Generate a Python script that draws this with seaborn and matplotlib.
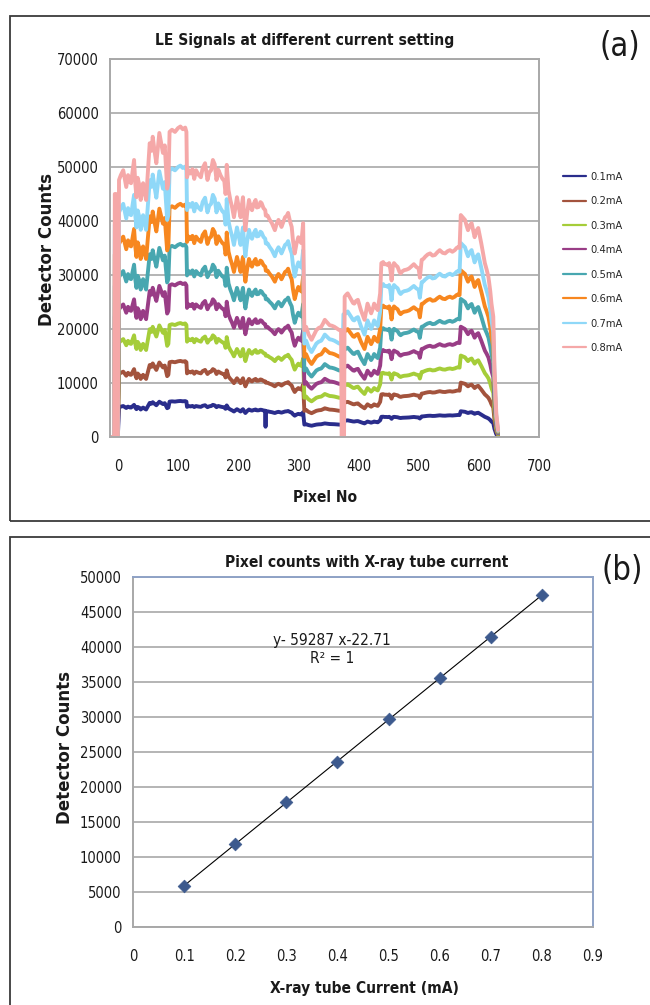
import numpy as np
import pandas as pd
import matplotlib
matplotlib.use("Agg")
import matplotlib.pyplot as plt
import matplotlib.font_manager as fm
import seaborn as sns
from matplotlib.lines import Line2D
from matplotlib.patches import Rectangle

sns.set_theme(style="white")
plt.rcParams["font.family"] = ["Liberation Sans", "DejaVu Sans"]

# ---------------- data: panel (a) ----------------
currents = ["0.1mA", "0.2mA", "0.3mA", "0.4mA", "0.5mA", "0.6mA", "0.7mA", "0.8mA"]
series_colors = ["#2a2d8c", "#a3533d", "#a5cd39", "#993d86",
                 "#48a7b0", "#f7871f", "#8fd8f8", "#f5a8a8"]
# signal level of each run relative to the 0.8 mA run
level_ratio = [0.116, 0.245, 0.367, 0.497, 0.622, 0.751, 0.874, 1.0]

# detector profile recorded at 0.8 mA, module by module
pixel_no = [
    -12, -6, -5, -3, -2, 0, 2, 5, 9, 12, 14, 17, 20, 22, 25, 27, 29, 31, 33, 36,
    38, 40, 42, 45, 47, 50, 53, 56, 58, 61, 64, 67, 69, 72, 75, 78, 80, 82, 84, 86,
    90, 95, 100, 104, 108, 112, 114,
    115, 118, 121, 124, 127, 130, 134, 138, 141, 145, 149, 152, 155, 158, 161, 164,
    167, 171, 174, 177, 179, 180,
    181, 184, 187, 190, 193, 196, 198, 201, 204, 206, 208, 210, 212, 215, 218, 221,
    223, 226, 229, 231, 234, 237, 239, 242, 245,
    246, 249, 252, 256, 259, 261, 264, 267, 270, 272, 275, 278, 281, 283, 286, 289,
    291, 294, 297, 300, 303, 305, 307, 308,
    310, 313, 317, 322, 326, 330, 334, 338, 341, 344, 348, 352, 356, 360, 364, 368,
    371, 374,
    375, 377, 380, 382, 385, 388, 391, 393, 396, 399, 402, 404, 407, 410, 413, 415,
    418, 421, 424, 426, 429, 432, 434, 436,
    438, 441, 443, 446, 449, 451, 453, 455, 457, 459, 462, 465, 468, 470, 473, 476,
    480, 484, 488, 492, 496, 500,
    502, 505, 508, 511, 515, 519, 523, 527, 531, 535, 540, 544, 548, 552, 556, 560,
    563, 566, 568,
    570, 574, 577, 580, 582, 585, 588, 591, 593, 596, 599, 602, 604, 607, 610, 613,
    616, 619, 621, 624, 626, 629, 632,
]
counts_08mA = [
    0, 0, 45000, 45000, 0, 0, 47600, 48500, 49400, 47500, 46300, 48500, 47200, 47000,
    49500, 51300, 47000, 44400, 48000, 46500, 43900, 45500, 47000, 45000, 43900, 49000,
    54400, 53000, 55600, 53000, 50700, 54000, 56300, 54500, 52600, 54000, 50000, 46000,
    47000, 56500, 56900, 56500, 57200, 57500, 57000, 57300, 56500,
    48100, 49400, 48800, 49600, 47800, 49400, 48600, 48100, 49800, 50700, 47600, 49000,
    49400, 51300, 50500, 47600, 49500, 48400, 47800, 47400, 45000, 46000,
    50400, 45700, 43900, 42500, 40700, 43000, 44400, 42500, 40700, 42800, 44400, 41000,
    38300, 41500, 43900, 42500, 42000, 43200, 43900, 42500, 42600, 43500, 43300, 42400,
    42000,
    41000, 41000, 40300, 39600, 38800, 38300, 39500, 40200, 39500, 38900, 39800, 40700,
    41000, 41500, 40000, 38900, 36500, 34000, 35800, 37000, 36200, 35900, 38500, 39600,
    19800, 20400, 19000, 18000, 18900, 19800, 20200, 20400, 21000, 21700, 21200, 20700,
    20600, 20400, 20100, 19800, 19800, 19800,
    26000, 26000, 26400, 26600, 26000, 25400, 24800, 24700, 25200, 25400, 24300, 23500,
    22600, 21700, 23500, 24700, 23800, 22900, 23800, 24700, 24000, 23500, 25000, 26600,
    32200, 32400, 32000, 32000, 31800, 32200, 31000, 29000, 31500, 32200, 31800, 31500,
    30600, 30300, 30700, 30900, 31000, 31200, 31600, 32000, 31500, 31200,
    29500, 32800, 33000, 33400, 33800, 34000, 33600, 33700, 34200, 34600, 34100, 34000,
    34400, 34600, 34300, 34600, 35000, 35200, 35000,
    41100, 40600, 40200, 39000, 38300, 39200, 39600, 38000, 37000, 38200, 38700, 37000,
    35900, 34000, 32200, 31000, 29600, 27000, 24700, 22300, 13000, 4400, 1300,
]
assert len(pixel_no) == len(counts_08mA)

# single-run dropouts (dead readings)
dropout_series = ["0.8mA", "0.1mA"]
dropout_pixels = [[372, 376], [245.5]]
dropout_counts = [[0, 0], [1900]]

# ---------------- data: panel (b) ----------------
tube_current = [0.1, 0.2, 0.3, 0.4, 0.5, 0.6, 0.7, 0.8]
pixel_counts = [5900, 11900, 17850, 23600, 29650, 35550, 41450, 47450]
fit_slope = 59287
fit_intercept = -22.71

# ---------------- build long-form table ----------------
base_px = np.array(pixel_no, dtype=float)
base_ct = np.array(counts_08mA, dtype=float)
frames = []
for name, ratio in zip(currents, level_ratio):
    px = base_px.copy()
    ct = base_ct * ratio
    if name in dropout_series:
        i = dropout_series.index(name)
        dpx = np.array(dropout_pixels[i], dtype=float)
        dct = np.array(dropout_counts[i], dtype=float)
        keep = (px < dpx.min()) | (px > dpx.max())
        px = np.concatenate([px[keep], dpx])
        ct = np.concatenate([ct[keep], dct])
        order = np.argsort(px, kind="stable")
        px, ct = px[order], ct[order]
    frames.append(pd.DataFrame({"Pixel No": px, "Counts": ct, "Current": name}))
signals = pd.concat(frames, ignore_index=True)
palette = dict(zip(currents, series_colors))


# ---------------- fonts: prefer a narrow sans face ----------------
def narrow_face(bold):
    for f in fm.fontManager.ttflist:
        nm = f.name.lower()
        narrow = ("narrow" in nm or "condensed" in nm
                  or str(f.stretch) in ("condensed", "semi-condensed", "extra-condensed"))
        if not narrow or f.style != "normal":
            continue
        w = f.weight
        is_bold = (w == "bold") if isinstance(w, str) else w >= 700
        if bold == bool(is_bold):
            return fm.FontProperties(fname=f.fname)
    return None


reg_face = narrow_face(False)
bold_face = narrow_face(True)
if reg_face is None or bold_face is None:
    reg_face = fm.FontProperties(family=["Liberation Sans", "DejaVu Sans"])
    bold_face = fm.FontProperties(family=["Liberation Sans", "DejaVu Sans"], weight="bold")
    k = 1.05
else:
    k = 1.0


def fp(base, size):
    p = base.copy()
    p.set_size(size * k)
    return p


# ---------------- figure ----------------
W, H = 650, 1005
fig = plt.figure(figsize=(W / 100, H / 100), dpi=100)
fig.patch.set_facecolor("white")


def fx(px):
    return px / W


def fy(py):
    return 1 - py / H


# panel frames
for top, bot in [(16, 521), (537, 1020)]:
    fig.patches.append(Rectangle((fx(10), fy(bot)), fx(660) - fx(10), fy(top) - fy(bot),
                                 transform=fig.transFigure, fill=False,
                                 edgecolor="#3a3a3a", linewidth=1.3))

grid_col = "#b4b4b4"
ink = "#1a1a1a"
tick_size = 10.5
head_size = 11.2
ylab_size = 13.3


def style_ticks(ax, xpad, ypad):
    ax.tick_params(axis="both", length=0, colors=ink)
    ax.tick_params(axis="x", pad=xpad)
    ax.tick_params(axis="y", pad=ypad)
    for lab in ax.get_xticklabels() + ax.get_yticklabels():
        lab.set_fontproperties(fp(reg_face, tick_size))


# ---- panel (a)
ax1 = fig.add_axes([fx(110), fy(437), fx(539) - fx(110), fy(59) - fy(437)])
sns.lineplot(data=signals, x="Pixel No", y="Counts", hue="Current",
             hue_order=currents, palette=palette, estimator=None, sort=False,
             linewidth=2.8, legend=False, ax=ax1)
ax1.set_xlim(-13, 693)
ax1.set_ylim(0, 70000)
ax1.set_xticks(np.arange(0, 701, 100))
ax1.set_yticks(np.arange(0, 70001, 10000))
ax1.yaxis.grid(True, color=grid_col, linewidth=1.4)
ax1.xaxis.grid(False)
for s in ax1.spines.values():
    s.set_color("#a8a8a8")
    s.set_linewidth(1.4)
ax1.set_xlabel("")
ax1.set_ylabel("")
style_ticks(ax1, 16, 8)

fig.text(fx(305), fy(40), "LE Signals at different current setting", ha="center",
         va="center", fontproperties=fp(bold_face, head_size), color=ink)
fig.text(fx(47), fy(249), "Detector Counts", rotation=90, ha="center", va="center",
         fontproperties=fp(bold_face, ylab_size), color=ink)
fig.text(fx(325), fy(497), "Pixel No", ha="center", va="center",
         fontproperties=fp(bold_face, head_size), color=ink)
fig.text(fx(620), fy(47), "(a)", ha="center", va="center",
         fontproperties=fp(reg_face, 23.5), color=ink)

handles = [Line2D([0], [0], color=c, linewidth=1.6) for c in series_colors]
fig.legend(handles, currents, loc="upper left",
           bbox_to_anchor=(fx(563), fy(172)), bbox_transform=fig.transFigure,
           frameon=False, prop=fp(reg_face, 8), handlelength=2.1, handletextpad=0.35,
           labelspacing=1.3, borderpad=0, borderaxespad=0)

# ---- panel (b)
ax2 = fig.add_axes([fx(133), fy(927), fx(593) - fx(133), fy(577) - fy(927)])
fit_x = np.array([tube_current[0], tube_current[-1]])
sns.lineplot(x=fit_x, y=fit_slope * fit_x + fit_intercept, color="black",
             linewidth=0.8, ax=ax2)
sns.scatterplot(x=tube_current, y=pixel_counts, marker="D", s=42,
                color="#3d5a8e", edgecolor="#3d5a8e", linewidth=0.5, ax=ax2, zorder=3)
ax2.set_xlim(0, 0.9)
ax2.set_ylim(0, 50000)
xt = np.round(np.arange(0, 0.91, 0.1), 1)
ax2.set_xticks(xt)
ax2.set_xticklabels([f"{v:g}" for v in xt])
ax2.set_yticks(np.arange(0, 50001, 5000))
ax2.yaxis.grid(True, color=grid_col, linewidth=1.4)
ax2.xaxis.grid(False)
for side in ["left", "bottom"]:
    ax2.spines[side].set_color("#a8a8a8")
    ax2.spines[side].set_linewidth(1.4)
for side in ["top", "right"]:
    ax2.spines[side].set_color("#8ea2c6")
    ax2.spines[side].set_linewidth(1.4)
ax2.set_xlabel("")
ax2.set_ylabel("")
style_ticks(ax2, 16, 8)

ax2.text(0.39, 40900, "y- 59287 x-22.71", ha="center", va="center",
         fontproperties=fp(reg_face, 11.1), color=ink)
ax2.text(0.39, 38300, "R\u00b2 = 1", ha="center", va="center",
         fontproperties=fp(reg_face, 11.1), color=ink)

fig.text(fx(367), fy(562), "Pixel counts with X-ray tube current", ha="center",
         va="center", fontproperties=fp(bold_face, head_size), color=ink)
fig.text(fx(65), fy(748), "Detector Counts", rotation=90, ha="center", va="center",
         fontproperties=fp(bold_face, ylab_size), color=ink)
fig.text(fx(364), fy(988), "X-ray tube Current (mA)", ha="center", va="center",
         fontproperties=fp(bold_face, head_size), color=ink)
fig.text(fx(622), fy(570), "(b)", ha="center", va="center",
         fontproperties=fp(reg_face, 23.5), color=ink)

fig.savefig("out.png", dpi=100, facecolor="white")
